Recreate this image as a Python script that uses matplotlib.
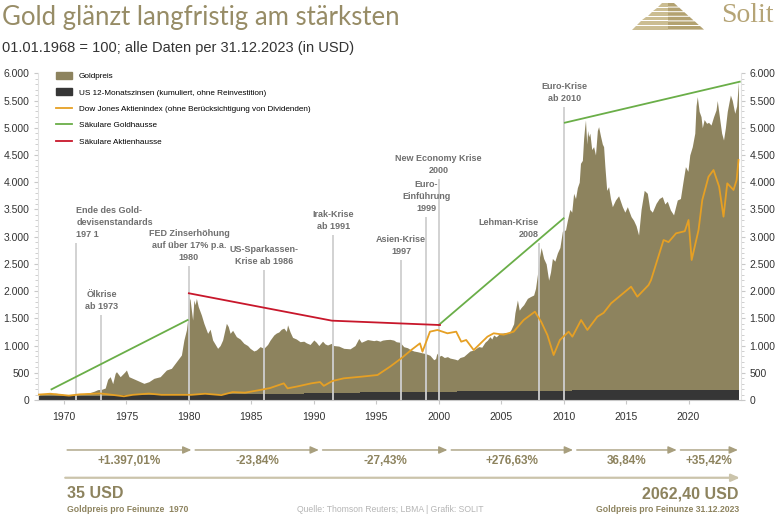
import matplotlib.pyplot as plt
from matplotlib.patches import Patch, Polygon
from matplotlib.lines import Line2D
from matplotlib.ticker import FuncFormatter, MultipleLocator

plt.rcParams['font.family'] = ['Liberation Sans', 'DejaVu Sans']

W, H = 781, 516

# Goldpreis, indexiert (01.01.1968 = 100)
gold_years = [1968.0, 1968.3, 1968.6, 1969.0, 1969.3, 1969.7, 1970.0, 1970.5, 1971.0, 1971.5,
              1972.0, 1972.4, 1972.7, 1973.0, 1973.3, 1973.5, 1973.7, 1973.9, 1974.1, 1974.2,
              1974.5, 1974.85, 1975.0, 1975.2, 1975.8, 1976.4, 1976.8, 1977.2, 1977.7, 1978.2,
              1978.6, 1979.0, 1979.4, 1979.6, 1979.8, 1979.9, 1980.0, 1980.1, 1980.2, 1980.3,
              1980.4, 1980.5, 1980.6, 1980.75, 1981.0, 1981.2, 1981.5, 1981.7, 1981.9, 1982.3,
              1982.5, 1982.7, 1983.0, 1983.15, 1983.3, 1983.5, 1983.8, 1984.1, 1984.4, 1984.7,
              1984.9, 1985.2, 1985.4, 1985.7, 1986.0, 1986.3, 1986.5, 1986.8, 1987.0, 1987.2,
              1987.4, 1987.6, 1987.8, 1987.9, 1988.1, 1988.3, 1988.6, 1988.9, 1989.2, 1989.4,
              1989.7, 1990.0, 1990.2, 1990.4, 1990.7, 1990.9, 1991.1, 1991.4, 1991.6, 1992.0,
              1992.4, 1992.9, 1993.3, 1993.6, 1993.8, 1994.0, 1994.3, 1994.5, 1994.8, 1995.0,
              1995.3, 1995.5, 1995.8, 1996.1, 1996.4, 1996.6, 1996.9, 1997.2, 1997.5, 1997.7,
              1998.0, 1998.3, 1998.6, 1998.8, 1999.1, 1999.3, 1999.6, 1999.75, 1999.85, 2000.0,
              2000.2, 2000.45, 2000.7, 2000.9, 2001.1, 2001.3, 2001.5, 2001.7, 2002.0, 2002.3,
              2002.5, 2002.8, 2003.0, 2003.2, 2003.45, 2003.7, 2003.9, 2004.1, 2004.25, 2004.4,
              2004.6, 2004.9, 2005.1, 2005.4, 2005.6, 2005.8, 2006.0, 2006.1, 2006.3, 2006.45,
              2006.6, 2006.8, 2007.1, 2007.35, 2007.6, 2007.75, 2007.9, 2008.05, 2008.2, 2008.4,
              2008.6, 2008.8, 2008.95, 2009.1, 2009.3, 2009.5, 2009.7, 2009.9, 2010.15, 2010.3,
              2010.5, 2010.65, 2010.8, 2010.95, 2011.1, 2011.25, 2011.35, 2011.5, 2011.6, 2011.68,
              2011.75, 2011.85, 2011.92, 2012.0, 2012.1, 2012.25, 2012.4, 2012.55, 2012.7, 2012.8,
              2012.95, 2013.1, 2013.2, 2013.3, 2013.45, 2013.6, 2013.75, 2013.9, 2014.15, 2014.4,
              2014.7, 2014.9, 2015.1, 2015.4, 2015.6, 2015.8, 2016.0, 2016.2, 2016.45, 2016.7,
              2016.9, 2017.1, 2017.4, 2017.65, 2017.9, 2018.1, 2018.3, 2018.55, 2018.8, 2019.1,
              2019.35, 2019.55, 2019.75, 2019.95, 2020.1, 2020.3, 2020.5, 2020.6, 2020.7, 2020.85,
              2021.0, 2021.1, 2021.25, 2021.45, 2021.6, 2021.8, 2022.0, 2022.2, 2022.3, 2022.5,
              2022.65, 2022.8, 2022.95, 2023.1, 2023.35, 2023.5, 2023.7, 2023.85, 2023.95, 2024.0]
gold_vals = [100, 110, 112, 120, 125, 115, 100, 102, 108, 115,
             130, 160, 190, 195, 220, 380, 428, 300, 490, 520,
             428, 510, 551, 428, 367, 306, 337, 398, 428, 551,
             582, 704, 826, 1102, 1286, 1469, 1897, 1836, 1650, 1469,
             1836, 1750, 1867, 1714, 1561, 1408, 1225, 1300, 1102, 949,
             1000, 1102, 1408, 1350, 1225, 1280, 1163, 1120, 1041, 1000,
             949, 900, 918, 980, 949, 1020, 1100, 1194, 1230, 1250,
             1300, 1320, 1260, 1380, 1250, 1150, 1120, 1071, 1080, 1050,
             1020, 1102, 1060, 1000, 1080, 1030, 1010, 1040, 1000, 990,
             949, 940, 1000, 1130, 1060, 1080, 1110, 1102, 1090, 1100,
             1080, 1100, 1110, 1114, 1100, 1070, 1060, 979, 960, 930,
             900, 887, 870, 860, 840, 820, 740, 760, 860, 800,
             820, 780, 796, 770, 760, 750, 735, 780, 800, 860,
             900, 918, 950, 980, 970, 1060, 1100, 1163, 1120, 1194,
             1160, 1225, 1230, 1240, 1220, 1300, 1400, 1600, 1837, 1650,
             1700, 1750, 1867, 1900, 1928, 2050, 2300, 2600, 2800, 2600,
             2500, 2200, 2350, 2600, 2550, 2700, 2800, 3100, 3122, 3300,
             3500, 3450, 3796, 3700, 3900, 4000, 4347, 4400, 4800, 5000,
             5142, 4700, 4950, 4836, 4900, 4600, 4653, 4500, 4950, 5020,
             4850, 4700, 4653, 4300, 3850, 3918, 3700, 3550, 3673, 3750,
             3551, 3450, 3550, 3367, 3300, 3200, 3030, 3500, 3850, 3796,
             3500, 3450, 3612, 3700, 3734, 3600, 3650, 3489, 3400, 3673,
             3700, 4000, 4286, 4200, 4500, 4653, 4900, 5400, 5571, 5300,
             5204, 5000, 5150, 5081, 5100, 5050, 5200, 5326, 5500, 5150,
             4900, 4775, 5000, 5300, 5601, 5500, 5265, 5400, 5700, 5846]

# US 12-Monatszinsen (kumuliert, ohne Reinvestition)
rate_years = [1968, 1974, 1980, 1989.2, 1993.7, 2001.5, 2010.7, 2024.0]
rate_vals = [75, 90, 105, 125, 145, 165, 185, 185]

# Dow Jones
dow_years = [1968.0, 1968.9, 1970.4, 1971.3, 1972.9, 1973.5, 1974.8, 1975.5, 1976.8, 1977.8,
             1978.8, 1980.2, 1981.3, 1982.6, 1983.5, 1984.5, 1985.7, 1986.5, 1987.6, 1987.9,
             1988.7, 1989.8, 1990.5, 1990.8, 1991.5, 1992.4, 1993.8, 1995.1, 1996.1, 1997.0,
             1997.8, 1998.5, 1998.7, 1999.3, 1999.9, 2000.7, 2001.4, 2001.8, 2002.2, 2002.8,
             2003.9, 2004.4, 2005.2, 2006.0, 2006.8, 2007.7, 2008.2, 2008.7, 2009.2, 2009.7,
             2010.4, 2010.7, 2011.4, 2011.9, 2012.7, 2013.2, 2013.8, 2014.6, 2015.4, 2015.9,
             2016.8, 2017.0, 2018.0, 2018.4, 2019.0, 2019.7, 2020.0, 2020.25, 2020.8, 2021.1,
             2021.6, 2022.0, 2022.45, 2022.8, 2023.1, 2023.6, 2023.85, 2024.0]
dow_vals = [100, 115, 80, 105, 120, 105, 68, 95, 118, 95,
            95, 95, 115, 90, 145, 135, 184, 220, 306, 214,
            250, 306, 330, 260, 350, 398, 428, 459, 612, 765,
            918, 1041, 887, 1255, 1286, 1225, 1255, 1071, 1102, 918,
            1163, 1225, 1200, 1255, 1469, 1622, 1438, 1194, 826, 1102,
            1255, 1163, 1469, 1286, 1530, 1600, 1776, 1928, 2081, 1897,
            2112, 2204, 2938, 2900, 3061, 3100, 3306, 2571, 3122, 3673,
            4101, 4224, 3918, 3367, 3979, 3857, 4040, 4408]

# Säkulare Goldhausse / Aktienhausse
gold_bull = [([1969.0, 1979.9], [196, 1469]),
             ([2000.0, 2010.0], [1377, 3337]),
             ([2010.1, 2024.1], [5093, 5846])]
stock_bull_years = [1980.0, 1991.45, 2000.1]
stock_bull_vals = [1960, 1457, 1377]

# Ereignisse
event_years = [1971, 1973, 1980, 1986, 1991.55, 1997, 1999, 2000, 2008, 2010.05]
event_tops = [2883, 1561, 2461, 2388, 3030, 2571, 3361, 4059, 2883, 5381]
event_labels = ['Ende des Gold-\ndevisenstandards\n197 1', 'Ölkrise\nab 1973',
                'FED Zinserhöhung\nauf über 17% p.a.\n1980', 'US-Sparkassen-\nKrise ab 1986',
                'Irak-Krise\nab 1991', 'Asien-Krise\n1997', 'Euro-\nEinführung\n1999',
                'New Economy Krise\n2000', 'Lehman-Krise\n2008', 'Euro-Krise\nab 2010']
event_align = ['left', 'center', 'center', 'center', 'center', 'center', 'center',
               'center', 'right', 'center']

# Goldpreis-Performance je Abschnitt
period_edges = [1970.1, 1980.35, 1990.55, 2000.85, 2010.9, 2019.2, 2024.1]
period_labels = ['+1.397,01%', '-23,84%', '-27,43%', '+276,63%', '36,84%', '+35,42%']

GOLD = '#8d835e'
DARK = '#363636'
ORANGE = '#e6a024'
GREEN = '#6aae48'
RED = '#c8172b'
TXT_GOLD = '#8d835e'

fig = plt.figure(figsize=(W / 100, H / 100), dpi=100)
ax = fig.add_axes([38 / W, 1 - 400 / H, 703 / W, 326.7 / H])

ax.fill_between(gold_years, 0, gold_vals, color=GOLD, lw=0, zorder=1)
ax.fill_between(rate_years, 0, rate_vals, step='post', color=DARK, lw=0, zorder=2)
ax.vlines(event_years, 0, event_tops, color='#cfcfcf', lw=1.3, zorder=3)
ax.plot(dow_years, dow_vals, color=ORANGE, lw=1.3, zorder=4)
for xs, ys in gold_bull:
    ax.plot(xs, ys, color=GREEN, lw=1.3, zorder=5)
ax.plot(stock_bull_years, stock_bull_vals, color=RED, lw=1.3, zorder=5)

for x, top, lab, ha in zip(event_years, event_tops, event_labels, event_align):
    ax.annotate(lab, (x, top), xytext=(0, 3), textcoords='offset points',
                ha=ha, va='bottom', fontsize=6.5, fontweight='bold', color='#6f6f6f',
                linespacing=1.4, family=['Liberation Sans Narrow', 'Liberation Sans'])

ax.set_xlim(1967.92, 2024.2)
ax.set_ylim(0, 6000)
ax.xaxis.set_major_locator(MultipleLocator(5))
ax.yaxis.set_major_locator(MultipleLocator(500))
ax.yaxis.set_minor_locator(MultipleLocator(100))
ax.yaxis.set_major_formatter(FuncFormatter(lambda v, p: f'{int(v):,}'.replace(',', '.')))
ax.tick_params(axis='both', labelsize=7.5, colors='#333333', length=3, width=0.8)
ax.tick_params(axis='both', which='both', color='#c8c8c8')
ax.tick_params(axis='y', which='both', right=True, labelright=True, pad=3)
ax.tick_params(axis='y', which='minor', length=2)
ax.tick_params(axis='x', pad=6)
ax.spines['top'].set_visible(False)
for s in ['left', 'right']:
    ax.spines[s].set_color('#e2e2e2')
ax.spines['bottom'].set_color('#c8c8c8')

handles = [Patch(color=GOLD), Patch(color=DARK), Line2D([], [], color=ORANGE, lw=1.3),
           Line2D([], [], color=GREEN, lw=1.3), Line2D([], [], color=RED, lw=1.3)]
labels = ['Goldpreis', 'US 12-Monatszinsen (kumuliert, ohne Reinvestition)',
          'Dow Jones Aktienindex (ohne Berücksichtigung von Dividenden)',
          'Säkulare Goldhausse', 'Säkulare Aktienhausse']
fig.legend(handles, labels, loc='upper left', bbox_to_anchor=(56 / W, 1 - 72 / H),
           frameon=False, handlelength=2.0, handleheight=0.9,
           handletextpad=0.8, labelspacing=1.0, borderpad=0, borderaxespad=0,
           prop={'family': ['Liberation Sans Narrow', 'Liberation Sans'], 'size': 5.9})

# Performance-Pfeile unter der Grafik
tr = ax.get_xaxis_transform()
for a, b, lab in zip(period_edges[:-1], period_edges[1:], period_labels):
    ax.annotate('', xy=(b - 0.15, -0.153), xytext=(a + 0.15, -0.153), xycoords=tr,
                textcoords=tr, annotation_clip=False,
                arrowprops=dict(arrowstyle='-|>,head_length=0.5,head_width=0.22',
                                color='#a89f7e', lw=1.0, shrinkA=0, shrinkB=0))
    ax.text((a + b) / 2, -0.188, lab, transform=tr, ha='center', va='center',
            fontsize=8.5, fontweight='bold', color=TXT_GOLD)
ax.annotate('', xy=(period_edges[-1], -0.238), xytext=(period_edges[0], -0.238),
            xycoords=tr, textcoords=tr, annotation_clip=False,
            arrowprops=dict(arrowstyle='-|>,head_length=0.5,head_width=0.22',
                            color='#cbc4ab', lw=1.6, shrinkA=0, shrinkB=0))

fig.text(67 / W, 1 - 494 / H, '35 USD', fontsize=11.5, fontweight='bold', color=TXT_GOLD,
         va='center')
fig.text(67 / W, 1 - 510 / H, 'Goldpreis pro Feinunze  1970', fontsize=6.2,
         fontweight='bold', color=TXT_GOLD, va='center')
fig.text(739 / W, 1 - 494 / H, '2062,40 USD', fontsize=11.5, fontweight='bold',
         color=TXT_GOLD, va='center', ha='right')
fig.text(739 / W, 1 - 510 / H, 'Goldpreis pro Feinunze 31.12.2023', fontsize=6.2,
         fontweight='bold', color=TXT_GOLD, va='center', ha='right')
fig.text(390 / W, 1 - 510 / H, 'Quelle: Thomson Reuters; LBMA | Grafik: SOLIT', fontsize=6.2,
         color='#b5b5b5', va='center', ha='center')

# Titel
fig.text(2 / W, 1 - 18 / H, 'Gold glänzt langfristig am stärksten', fontsize=18.5,
         color='#978c66', va='center', family=['Lato', 'DejaVu Sans'], fontweight='normal')
fig.text(2 / W, 1 - 48 / H, '01.01.1968 = 100; alle Daten per 31.12.2023 (in USD)',
         fontsize=10.5, color='#333333', va='center')

# Logo
cx = 668
for i in range(6):
    yt, yb = 3 + i * 4.6, 6.6 + i * 4.6
    wt, wb = 6 + i * 5.2, 10 + i * 5.2
    left = [(cx - wt, yt), (cx, yt), (cx, yb), (cx - wb, yb)]
    right = [(cx, yt), (cx + wt, yt), (cx + wb, yb), (cx, yb)]
    for pts, c in ((left, '#cbbd92'), (right, '#b3a271')):
        fig.patches.append(Polygon([(x / W, 1 - y / H) for x, y in pts], closed=True,
                                   transform=fig.transFigure, color=c, lw=0))
fig.text(721 / W, 1 - 16 / H, 'Solit', fontsize=20, color='#b5a476', va='center',
         family=['Liberation Serif', 'DejaVu Serif'])

fig.savefig('out.png', dpi=100)
